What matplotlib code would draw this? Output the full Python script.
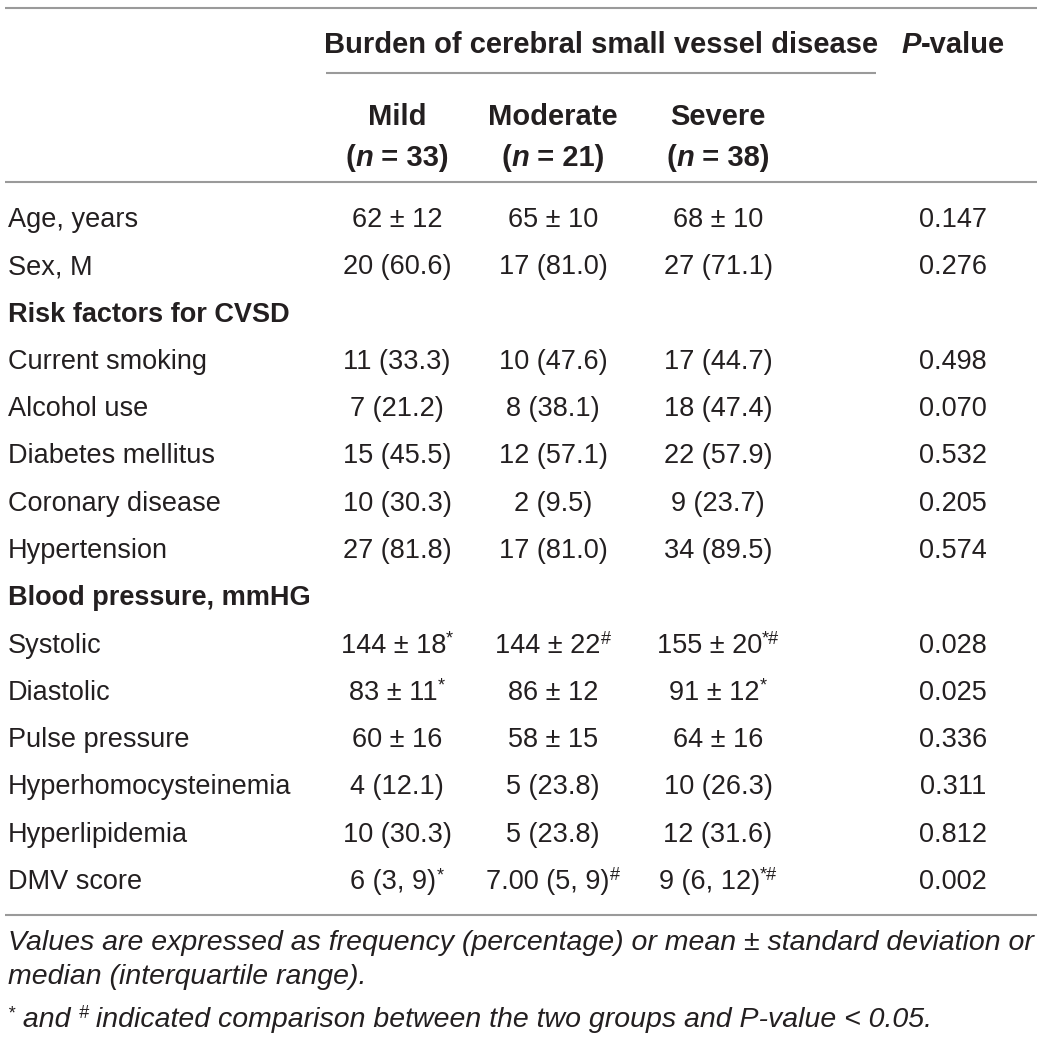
import matplotlib
matplotlib.use("Agg")
import matplotlib.pyplot as plt

# ---- table data ----
row_labels = ["Age, years", "Sex, M", "Current smoking", "Alcohol use",
              "Diabetes mellitus", "Coronary disease", "Hypertension",
              "Systolic", "Diastolic", "Pulse pressure",
              "Hyperhomocysteinemia", "Hyperlipidemia", "DMV score"]
mild = ["62 ± 12", "20 (60.6)", "11 (33.3)", "7 (21.2)", "15 (45.5)",
        "10 (30.3)", "27 (81.8)", "144 ± 18", "83 ± 11", "60 ± 16",
        "4 (12.1)", "10 (30.3)", "6 (3, 9)"]
mild_sup = ["", "", "", "", "", "", "", "*", "*", "", "", "", "*"]
moderate = ["65 ± 10", "17 (81.0)", "10 (47.6)", "8 (38.1)", "12 (57.1)",
            "2 (9.5)", "17 (81.0)", "144 ± 22", "86 ± 12", "58 ± 15",
            "5 (23.8)", "5 (23.8)", "7.00 (5, 9)"]
moderate_sup = ["", "", "", "", "", "", "", "#", "", "", "", "", "#"]
severe = ["68 ± 10", "27 (71.1)", "17 (44.7)", "18 (47.4)", "22 (57.9)",
          "9 (23.7)", "34 (89.5)", "155 ± 20", "91 ± 12", "64 ± 16",
          "10 (26.3)", "12 (31.6)", "9 (6, 12)"]
severe_sup = ["", "", "", "", "", "", "", "*#", "*", "", "", "", "*#"]
p_values = ["0.147", "0.276", "0.498", "0.070", "0.532", "0.205", "0.574",
            "0.028", "0.025", "0.336", "0.311", "0.812", "0.002"]
# section headings inserted before the row with this index
sections = {2: "Risk factors for CVSD", 7: "Blood pressure, mmHG"}
group_names = ["Mild", "Moderate", "Severe"]
group_n = ["33", "21", "38"]
span_title = "Burden of cerebral small vessel disease"
notes = ["Values are expressed as frequency (percentage) or mean ± standard deviation or",
         "median (interquartile range)."]

# ---- style ----
INK = "#231f20"
RULE = "#9a9a9a"
FS = 19.5
HFS = 21
NFS = 20.5
SUP_FS = 13
BODY = ["Liberation Sans", "DejaVu Sans"]

W, H = 1041, 1038
fig = plt.figure(figsize=(W / 100, H / 100), dpi=100)
ax = fig.add_axes([0, 0, 1, 1])
ax.set_xlim(0, W)
ax.set_ylim(H, 0)
ax.axis("off")
renderer = fig.canvas.get_renderer()


def draw_runs(x, y, runs, ha="left"):
    """runs: list of (text, props, dy). Draws pieces side by side."""
    arts = []
    for txt, props, dy in runs:
        t = ax.text(0, y + dy, txt, va="baseline", ha="left", color=INK, **props)
        arts.append(t)
    widths = [t.get_window_extent(renderer=renderer).width for t in arts]
    total = sum(widths)
    if ha == "center":
        x0 = x - total / 2
    elif ha == "right":
        x0 = x - total
    else:
        x0 = x
    for t, w in zip(arts, widths):
        t.set_x(x0)
        x0 += w
    return total


body = dict(fontsize=FS, family=BODY)
bold = dict(fontsize=FS, family=BODY, weight="bold")
hbold = dict(fontsize=HFS, family=BODY, weight="bold")
hbit = dict(fontsize=HFS, family=BODY, weight="bold", style="italic")
sup = dict(fontsize=SUP_FS, family=BODY)
it = dict(fontsize=NFS, family=BODY, style="italic")
itsup = dict(fontsize=SUP_FS, family=BODY, style="italic")

col_x = [397, 553, 718]
p_x = 953
label_x = 8
SUP_DY = -9

# rules
for xa, xb, yy in [(5, 1037, 8), (326, 876, 73), (5, 1037, 182), (5, 1037, 915)]:
    ax.plot([xa, xb], [yy, yy], color=RULE, lw=1.5, solid_capstyle="butt")

# header
draw_runs(601, 53, [(span_title, hbold, 0)], ha="center")
draw_runs(p_x, 53, [("P", hbit, 0), ("-value", hbold, 0)], ha="center")
for cx, name, n in zip(col_x, group_names, group_n):
    draw_runs(cx, 125, [(name, hbold, 0)], ha="center")
    draw_runs(cx, 166, [("(", hbold, 0), ("n", hbit, 0), (" = " + n + ")", hbold, 0)],
              ha="center")

# body rows
y0 = 217
step = (879 - 217) / 14
k = 0
for i, lab in enumerate(row_labels):
    if i in sections:
        draw_runs(label_x, y0 + k * step + 10, [(sections[i], bold, 0)])
        k += 1
    yb = y0 + k * step + 10
    draw_runs(label_x, yb, [(lab, body, 0)])
    for cx, vals, sups in zip(col_x, [mild, moderate, severe],
                              [mild_sup, moderate_sup, severe_sup]):
        runs = [(vals[i], body, 0)]
        if sups[i]:
            runs.append((sups[i], sup, SUP_DY))
        draw_runs(cx, yb, runs, ha="center")
    draw_runs(p_x, yb, [(p_values[i], body, 0)], ha="center")
    k += 1

# footnotes
draw_runs(label_x, 950, [(notes[0], it, 0)])
draw_runs(label_x, 984, [(notes[1], it, 0)])
draw_runs(label_x, 1027, [("*", itsup, SUP_DY), (" and ", it, 0), ("#", itsup, SUP_DY),
                          (" indicated comparison between the two groups and P-value < 0.05.", it, 0)])

fig.savefig("out.png", dpi=100)
